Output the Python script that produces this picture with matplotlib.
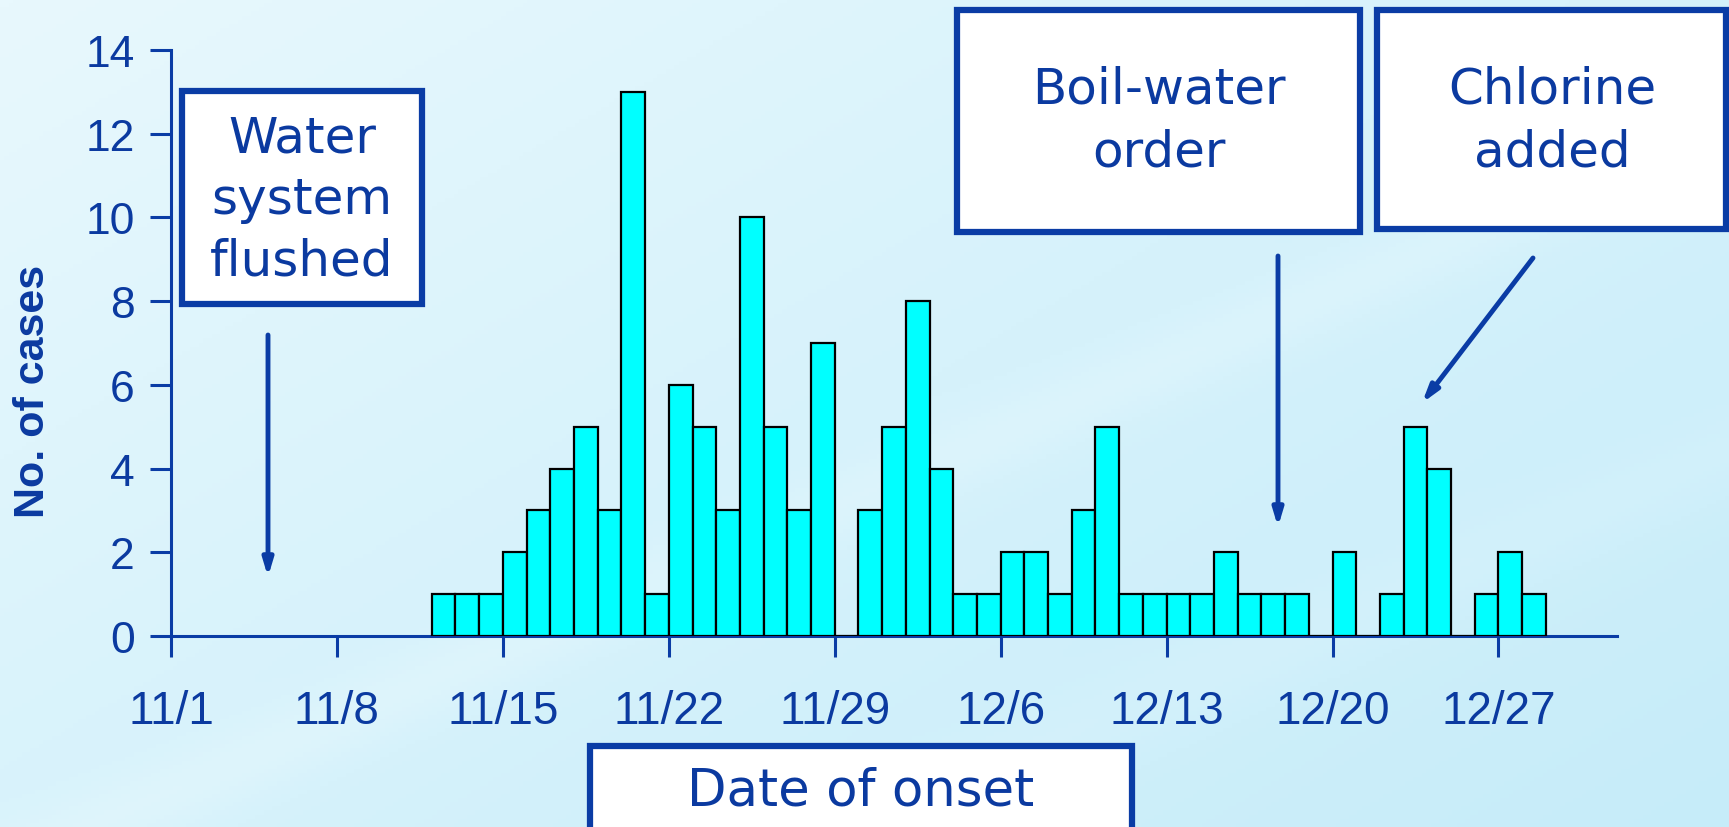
import numpy as np
import matplotlib
matplotlib.use("Agg")
import matplotlib.pyplot as plt
from matplotlib.patches import Rectangle
from matplotlib.colors import LinearSegmentedColormap

# ---------------- data ----------------
# day index: 0 = 11/1 ... 60 = 12/31
days = list(range(11, 58))
cases = [1, 1, 1, 2, 3, 4, 5, 3, 13, 1,      # 11/12 - 11/21
         6, 5, 3, 10, 5, 3, 7, 0, 3, 5,      # 11/22 - 12/1
         8, 4, 1, 1, 2, 2, 1, 3, 5, 1,       # 12/2 - 12/11
         1, 1, 1, 2, 1, 1, 1, 0, 2, 0,       # 12/12 - 12/21
         1, 5, 4, 0, 1, 2, 1]                # 12/22 - 12/28
tick_days = [0, 7, 14, 21, 28, 35, 42, 49, 56]
tick_labels = ["11/1", "11/8", "11/15", "11/22", "11/29", "12/6", "12/13", "12/20", "12/27"]
y_ticks = [0, 2, 4, 6, 8, 10, 12, 14]

annot_texts = ["Water\nsystem\nflushed", "Boil-water\norder", "Chlorine\nadded"]

BLUE = "#0a3ca5"
TEXT_BLUE = "#0b3aa0"

W, H = 1729, 828
fig = plt.figure(figsize=(W / 100, H / 100), dpi=100)

# ---------------- background ----------------
bg = fig.add_axes([0, 0, 1, 1], zorder=-10)
yy, xx = np.mgrid[0:1:200j, 0:1:400j]
t = 0.55 * xx + 0.45 * yy
band = 0.35 * np.exp(-((yy - (1.05 - 0.9 * xx)) / 0.05) ** 2) \
     + 0.25 * np.exp(-((yy - (1.45 - 0.9 * xx)) / 0.06) ** 2)
val = np.clip(t - band * 0.6, 0, 1)
cmap = LinearSegmentedColormap.from_list("bg", ["#e8f8fd", "#d6f2fb", "#c6ecf9"])
bg.imshow(val, cmap=cmap, aspect="auto", extent=[0, 1, 0, 1], origin="upper", vmin=0, vmax=1)
bg.set_axis_off()

# ---------------- main axes ----------------
ax = fig.add_axes([171 / W, 1 - 637 / H, (1617 - 171) / W, (637 - 51) / H])
ax.patch.set_alpha(0)
ax.bar(days, cases, width=1.0, align="edge", color="#00ffff",
       edgecolor="black", linewidth=1.6, zorder=3)
ax.set_xlim(0, 61)
ax.set_ylim(0, 14)
ax.set_xticks(tick_days)
ax.set_xticklabels(tick_labels)
ax.set_yticks(y_ticks)
for s in ["top", "right"]:
    ax.spines[s].set_visible(False)
for s in ["left", "bottom"]:
    ax.spines[s].set_color(BLUE)
    ax.spines[s].set_linewidth(2.2)
ax.tick_params(axis="both", colors=BLUE, width=2.2, length=15, direction="out",
               labelcolor=TEXT_BLUE)
ax.tick_params(axis="x", pad=23, labelsize=33)
ax.tick_params(axis="y", pad=11, labelsize=32)
for lab in ax.get_xticklabels() + ax.get_yticklabels():
    lab.set_fontfamily("Liberation Sans")

# ---------------- overlay (pixel coordinates) ----------------
ov = fig.add_axes([0, 0, 1, 1], zorder=10)
ov.set_xlim(0, W)
ov.set_ylim(H, 0)
ov.set_axis_off()
ov.patch.set_alpha(0)

def box(x0, y0, x1, y1, text, tx, ty, size=36, ls=1.4):
    ov.add_patch(Rectangle((x0, y0), x1 - x0, y1 - y0, facecolor="white",
                           edgecolor=BLUE, linewidth=4.5, zorder=5))
    ov.text(tx, ty, text, ha="center", va="center", color=TEXT_BLUE,
            fontsize=size, family="DejaVu Sans", linespacing=ls, zorder=6)

def arrow(x0, y0, x1, y1):
    ov.annotate("", xy=(x1, y1), xytext=(x0, y0),
                arrowprops=dict(arrowstyle="-|>,head_length=1.0,head_width=0.3",
                                color=BLUE, lw=3.5, shrinkA=0, shrinkB=0), zorder=7)

box(182, 92, 422, 305, annot_texts[0], 302, 200, ls=1.36)
arrow(268, 336, 268, 578)
box(957, 11, 1360, 233, annot_texts[1], 1159, 121)
arrow(1278, 257, 1278, 528)
box(1377, 11, 1726, 230, annot_texts[2], 1552, 121)
arrow(1533, 259, 1422, 404)
box(590, 747, 1132, 860, "Date of onset", 861, 792, size=37)

fig.text(33 / W, 1 - 391 / H, "No. of cases", rotation=90, ha="center", va="center",
         color=TEXT_BLUE, fontsize=31, fontweight="bold", family="Liberation Sans")

fig.savefig("out.png", dpi=100)
